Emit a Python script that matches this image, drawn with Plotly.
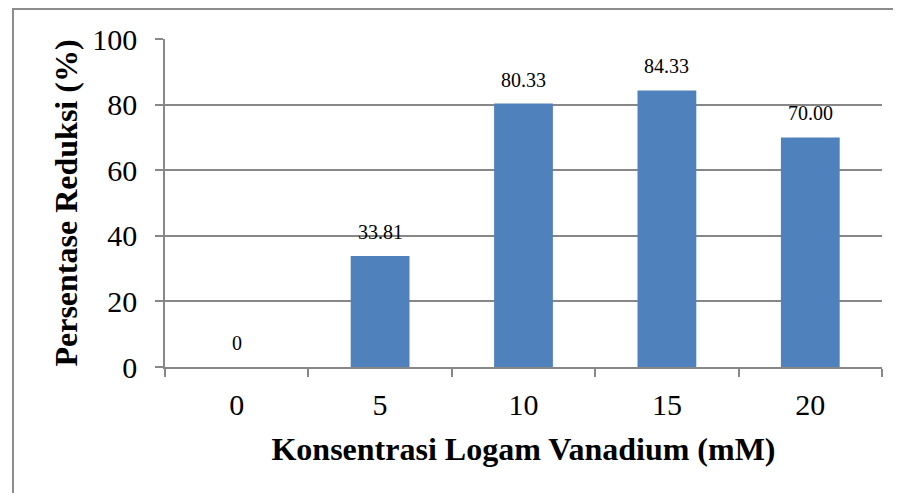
import plotly.graph_objects as go

categories = ["0", "5", "10", "15", "20"]
values = [0, 33.81, 80.33, 84.33, 70.00]
labels = ["0", "33.81", "80.33", "84.33", "70.00"]

# the page body has an 8px margin, so the figure is drawn 8px in/down
OFF = 8
W, H = 901 - OFF, 493 - OFF
L, T = 165 - OFF, 39 - OFF
R = W - (882 - OFF)
B = H - (367 - OFF)
pw, ph = W - L - R, H - T - B

def px_to_paper_x(px):
    return (px - OFF - L) / pw

def px_to_paper_y(py):
    return (H - B - (py - OFF)) / ph

FONT = "Liberation Serif, Times New Roman, serif"

fig = go.Figure()
fig.add_trace(go.Bar(
    x=categories, y=values,
    marker=dict(color="#4F81BD", line=dict(width=0)),
    hoverinfo="x+y",
))

# category positions on the category axis are their indices
annotations = [
    dict(x=i, y=v, text=t, xref="x", yref="y", showarrow=False,
         yanchor="middle", yshift=24,
         font=dict(family=FONT, size=20, color="black"))
    for i, (v, t) in enumerate(zip(values, labels))
]

fig.update_layout(
    width=W, height=H,
    margin=dict(l=L, r=R, t=T, b=B),
    paper_bgcolor="white", plot_bgcolor="white",
    bargap=0.59,
    showlegend=False,
    font=dict(family=FONT, color="black"),
    annotations=annotations,
    shapes=[dict(type="rect", xref="paper", yref="paper",
                 x0=px_to_paper_x(13), x1=px_to_paper_x(920),
                 y0=px_to_paper_y(520), y1=px_to_paper_y(OFF + 1),
                 line=dict(color="#8C8C8C", width=2), fillcolor="rgba(0,0,0,0)",
                 layer="below")],
)

fig.update_xaxes(
    type="category",
    categoryorder="array", categoryarray=categories,
    showline=True, linecolor="#878787", linewidth=1.5,
    ticks="outside", tickson="boundaries", ticklen=8, tickcolor="#878787", tickwidth=1.5,
    showgrid=False,
    tickangle=0,
    tickfont=dict(family=FONT, size=30, color="black"),
    ticklabelstandoff=10,
    title=dict(text="<b>Konsentrasi Logam Vanadium (mM)</b>",
               font=dict(family=FONT, size=32, color="black"), standoff=18),
)
fig.update_yaxes(
    range=[0, 100], dtick=20,
    showline=True, linecolor="#878787", linewidth=1.5,
    ticks="outside", ticklen=8, tickcolor="#878787", tickwidth=1.5,
    showgrid=True, gridcolor="#878787", gridwidth=1.5,
    zeroline=False,
    tickfont=dict(family=FONT, size=30, color="black"),
    ticklabelstandoff=12,
    title=dict(text="<b>Persentase Reduksi (%)</b>",
               font=dict(family=FONT, size=32, color="black"), standoff=5),
)

fig.write_html("out.html")
